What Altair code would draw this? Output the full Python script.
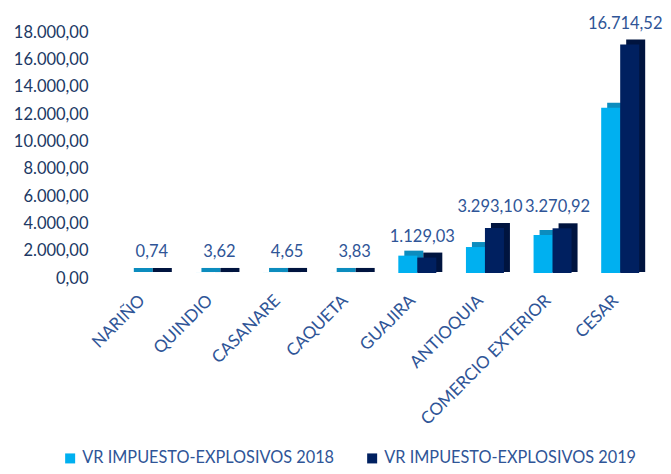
import altair as alt
import pandas as pd

categories = ["NARIÑO", "QUINDIO", "CASANARE", "CAQUETA", "GUAJIRA",
              "ANTIOQUIA", "COMERCIO EXTERIOR", "CESAR"]
series = ["VR IMPUESTO-EXPLOSIVOS 2018", "VR IMPUESTO-EXPLOSIVOS 2019"]
v2018 = [0.5, 2.9, 3.4, 2.6, 1270, 1900, 2780, 12100]
v2019 = [0.74, 3.62, 4.65, 3.83, 1129.03, 3293.10, 3270.92, 16714.52]
y_ticks = [0, 2000, 4000, 6000, 8000, 10000, 12000, 14000, 16000, 18000]

rows = []
for c, a, b in zip(categories, v2018, v2019):
    rows.append({"cat": c, "serie": series[0], "valor": a})
    rows.append({"cat": c, "serie": series[1], "valor": b})
df = pd.DataFrame(rows)

FONT = "Lato"
BLUE_TXT = "#2F5597"
FRONT = ["#00B0F0", "#002060"]
SIDE = ["#0C8CBE", "#00143F"]
BW = 19  # bar face width (px)
DX = 6   # 3D depth x
DY = 5   # 3D depth y

x_enc = alt.X("cat:N", sort=categories, title=None,
              scale=alt.Scale(domain=categories, paddingInner=0, paddingOuter=0),
              axis=alt.Axis(labelAngle=-45, labelFont=FONT, labelFontSize=17,
                            labelColor=BLUE_TXT, domain=False, ticks=False,
                            labelPadding=14, labelOffset=-10, labelLimit=0))
y_enc = alt.Y("valor:Q", title=None,
              scale=alt.Scale(domain=[0, 18000], nice=False),
              axis=alt.Axis(values=y_ticks, format=",.2f", grid=False, domain=False,
                            ticks=False, labelFont=FONT, labelFontSize=16.5,
                            labelColor="#203864", labelPadding=25))

base = alt.Chart(df)
layers = []
for i, s in enumerate(series):
    off = -BW / 2 if i == 0 else BW / 2
    sub = base.transform_filter(alt.datum.serie == s)
    side = sub.mark_bar(width=BW, xOffset=off + DX, yOffset=-5 - DY, y2Offset=-6,
                        color=SIDE[i]).encode(x=x_enc, y=y_enc, y2=alt.datum(0))
    front = sub.mark_bar(width=BW, xOffset=off, yOffset=-5, y2Offset=-5).encode(
        x=x_enc, y=y_enc, y2=alt.datum(0),
        color=alt.Color("serie:N", scale=alt.Scale(domain=series, range=FRONT),
                        legend=alt.Legend(title=None, orient="none", direction="horizontal",
                                          legendX=-51, legendY=418, symbolType="square",
                                          symbolSize=100, symbolStrokeWidth=0,
                                          labelFont=FONT, labelFontSize=16.3,
                                          labelColor=BLUE_TXT, labelLimit=0,
                                          columnPadding=29)),
    )
    layers += [side, front]

labels = base.transform_filter(alt.datum.serie == series[1]).mark_text(
    baseline="alphabetic", dx=5, dy=-21, font=FONT, fontSize=16.5, color=BLUE_TXT
).encode(
    x=x_enc, y=y_enc,
    text=alt.Text("valor:Q", format=",.2f"),
)
layers.append(labels)

chart = alt.layer(*layers).properties(
    width=541, height=246,
    autosize=alt.AutoSizeParams(type="none"),
    padding={"left": 105, "top": 24, "right": 9, "bottom": 188},
).configure(
    locale={"number": {"decimal": ",", "thousands": ".", "grouping": [3],
                       "currency": ["", ""]}}
).configure_view(stroke=None)

chart.save("out.html", embed_options={"renderer": "svg", "actions": False})
